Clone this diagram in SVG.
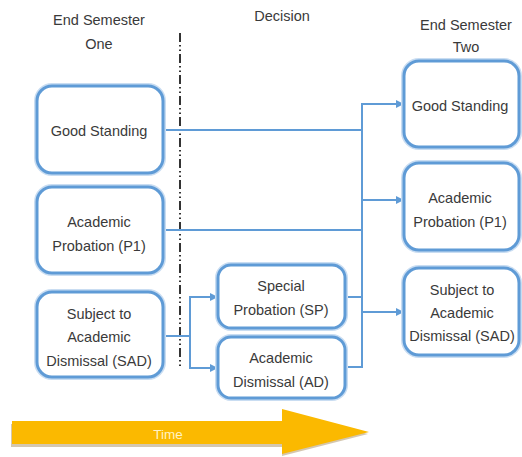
<svg xmlns="http://www.w3.org/2000/svg" width="522" height="457" viewBox="0 0 522 457">
<defs>
<style>
.box{fill:#fff;stroke:#5f9bd6;stroke-width:3}
.glow{fill:none;stroke:#c9ddf2;stroke-width:6}
.t{font-family:"Liberation Sans",Arial,sans-serif;font-size:14.5px;fill:#3a3a3a;text-anchor:middle}
.h{font-family:"Liberation Sans",Arial,sans-serif;font-size:14.5px;fill:#3a3a3a;text-anchor:middle}
.c{fill:none;stroke:#5f9bd6;stroke-width:2}
.ca{fill:none;stroke:#5f9bd6;stroke-width:2;marker-end:url(#ah)}
</style>
<marker id="ah" viewBox="0 0 10 10" refX="10" refY="5" markerWidth="4" markerHeight="4" orient="auto" markerUnits="strokeWidth">
<path d="M0,0 L10,5 L0,10 z" fill="#5f9bd6"/>
</marker>
</defs>
<rect width="522" height="457" fill="#fff"/>

<g id="headers">
<text class="h" x="99" y="25">End Semester</text>
<text class="h" x="99" y="49">One</text>
<text class="h" x="282" y="21">Decision</text>
<text class="h" x="466" y="30">End Semester</text>
<text class="h" x="466" y="52">Two</text>
</g>

<g id="divider">
<line x1="180" y1="33" x2="180" y2="366" stroke="#333" stroke-width="2" stroke-dasharray="9 3 1.5 3 1.5 3"/>
</g>

<g id="connectors">
<polyline class="c" points="163,130 362,130"/>
<polyline class="c" points="163,230 362,230"/>
<polyline class="c" points="345,297 362,297"/>
<polyline class="c" points="345,367 362,367"/>
<line class="c" x1="362" y1="103" x2="362" y2="368"/>
<polyline class="ca" points="362,104 404,104"/>
<polyline class="ca" points="362,200 404,200"/>
<polyline class="ca" points="362,312 404,312"/>
<polyline class="c" points="163,336 190,336"/>
<line class="c" x1="190" y1="296" x2="190" y2="369"/>
<polyline class="ca" points="190,297 218,297"/>
<polyline class="ca" points="190,368 218,368"/>
</g>

<g id="left-good-standing">
<rect class="glow" x="37" y="86" width="126" height="87" rx="15"/>
<rect class="box" x="37" y="86" width="126" height="87" rx="15"/>
<text class="t" x="99" y="136">Good Standing</text>
</g>
<g id="left-academic-probation">
<rect class="glow" x="37" y="187" width="126" height="86" rx="15"/>
<rect class="box" x="37" y="187" width="126" height="86" rx="15"/>
<text class="t" x="99" y="227">Academic</text>
<text class="t" x="99" y="251">Probation (P1)</text>
</g>
<g id="left-sad">
<rect class="glow" x="37" y="292" width="126" height="85" rx="15"/>
<rect class="box" x="37" y="292" width="126" height="85" rx="15"/>
<text class="t" x="99" y="319">Subject to</text>
<text class="t" x="99" y="342">Academic</text>
<text class="t" x="99" y="366">Dismissal (SAD)</text>
</g>

<g id="mid-sp">
<rect class="glow" x="218" y="265" width="127" height="63" rx="13"/>
<rect class="box" x="218" y="265" width="127" height="63" rx="13"/>
<text class="t" x="281" y="291">Special</text>
<text class="t" x="281" y="315">Probation (SP)</text>
</g>
<g id="mid-ad">
<rect class="glow" x="218" y="337" width="127" height="61" rx="13"/>
<rect class="box" x="218" y="337" width="127" height="61" rx="13"/>
<text class="t" x="281" y="363">Academic</text>
<text class="t" x="281" y="387">Dismissal (AD)</text>
</g>

<g id="right-good-standing">
<rect class="glow" x="404" y="61" width="115" height="86" rx="15"/>
<rect class="box" x="404" y="61" width="115" height="86" rx="15"/>
<text class="t" x="460" y="111">Good Standing</text>
</g>
<g id="right-academic-probation">
<rect class="glow" x="404" y="163" width="115" height="87" rx="15"/>
<rect class="box" x="404" y="163" width="115" height="87" rx="15"/>
<text class="t" x="460" y="203">Academic</text>
<text class="t" x="460" y="227">Probation (P1)</text>
</g>
<g id="right-sad">
<rect class="glow" x="404" y="268" width="115" height="87" rx="15"/>
<rect class="box" x="404" y="268" width="115" height="87" rx="15"/>
<text class="t" x="462" y="295">Subject to</text>
<text class="t" x="462" y="318">Academic</text>
<text class="t" x="462" y="341">Dismissal (SAD)</text>
</g>

<g id="time-arrow">
<polygon points="11,424 282,424 282,412 368,434 282,456 282,447 11,447" fill="#b8a27a" opacity="0.6"/>
<polygon points="12,421 282,421 282,409 369,432 282,454 282,444 12,444" fill="#fbb900"/>
<text x="168" y="439" font-family="'Liberation Sans',Arial,sans-serif" font-size="13.5" fill="#fff2c4" text-anchor="middle">Time</text>
</g>
</svg>
